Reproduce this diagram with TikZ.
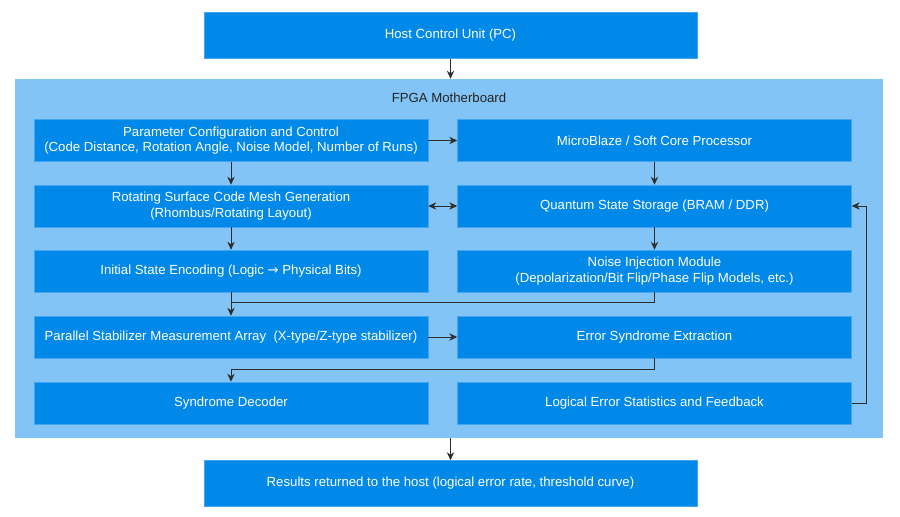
\documentclass[tikz,border=0pt]{standalone}
\usepackage{fontspec}
\setmainfont{Liberation Sans}
\newfontfamily\arrowfont{DejaVu Sans}
\usetikzlibrary{positioning}
\usetikzlibrary{arrows.meta}
\definecolor{boxblue}{RGB}{0,137,232}
\definecolor{edgeblue}{RGB}{70,165,240}
\definecolor{panelblue}{RGB}{129,196,245}
\definecolor{wiregray}{RGB}{45,45,45}

\begin{document}
\begin{tikzpicture}[x=0.75pt, y=0.75pt,
	hostnode/.style={rectangle, fill=boxblue, draw=edgeblue, line width=0.4pt, text=white, align=center, inner sep=0pt, minimum width=369.75pt, minimum height=34.5pt},
	blocknode/.style={rectangle, fill=boxblue, draw=edgeblue, line width=0.4pt, text=white, align=center, inner sep=0pt, minimum width=295.5pt, minimum height=31.5pt},
	panelnode/.style={rectangle, fill=panelblue, draw=none, inner sep=0pt, minimum width=651pt, minimum height=269.25pt},
	wire/.style={draw=wiregray, line width=0.7pt, -{Stealth[length=6pt, width=5.5pt]}},
	font=\fontsize{9.9}{11.6}\selectfont,
	]
	\useasboundingbox (0,0) rectangle (900,517);

	% Nodes
	\node[hostnode]                  (host_unit)        at (450.5, 481.5)   {Host Control Unit (PC)};
	\node[panelnode]                 (fpga_board)       at (449, 258.5)     {};
	\node[text=wiregray!80!black]    (fpga_title)       at (449, 419)       {FPGA Motherboard};
	\node[blocknode]                 (param_ctrl)       at (231, 376.5)     {Parameter Configuration and Control\\(Code Distance, Rotation Angle, Noise Model, Number of Runs)};
	\node[blocknode]                 (micro_blaze)      at (654.5, 376.5)   {MicroBlaze / Soft Core Processor};
	\node[blocknode]                 (mesh_gen)         at (231, 311)       {Rotating Surface Code Mesh Generation\\(Rhombus/Rotating Layout)};
	\node[blocknode]                 (state_store)      at (654.5, 311)     {Quantum State Storage (BRAM / DDR)};
	\node[blocknode]                 (init_enc)         at (231, 246)       {Initial State Encoding (Logic {\arrowfont\char"2192}{} Physical Bits)};
	\node[blocknode]                 (noise_inj)        at (654.5, 246)     {Noise Injection Module\\(Depolarization/Bit Flip/Phase Flip Models, etc.)};
	\node[blocknode]                 (stab_meas)        at (231, 180)       {Parallel Stabilizer Measurement Array\ \ (X-type/Z-type stabilizer)};
	\node[blocknode]                 (synd_extr)        at (654.5, 180)     {Error Syndrome Extraction};
	\node[blocknode]                 (synd_dec)         at (231, 114)       {Syndrome Decoder};
	\node[blocknode]                 (err_stats)        at (654.5, 114)     {Logical Error Statistics and Feedback};
	\node[hostnode]                  (host_result)      at (450.5, 33.5)    {Results returned to the host (logical error rate, threshold curve)};
	\coordinate                      (merge_point)      at (231, 215);

	% Lines
	\draw[wire] (host_unit.south)      --  (host_unit.south |- fpga_board.north);
	\draw[wire] (param_ctrl.east)      --  (micro_blaze.west);
	\draw[wire] (param_ctrl.south)     --  (mesh_gen.north);
	\draw[wire] (micro_blaze.south)    --  (state_store.north);
	\draw[wire, {Stealth[length=6pt, width=5.5pt]}-{Stealth[length=6pt, width=5.5pt]}] (mesh_gen.east) -- (state_store.west);
	\draw[wire] (mesh_gen.south)       --  (init_enc.north);
	\draw[wire] (state_store.south)    --  (noise_inj.north);
	\draw[wire, -] (init_enc.south)    --  (merge_point);
	\draw[wire] (noise_inj.south)      |-  (merge_point) -- (stab_meas.north);
	\draw[wire] (stab_meas.east)       --  (synd_extr.west);
	\draw[wire] (synd_extr.south)      --  ++(0,-11) -| (synd_dec.north);
	\draw[wire] (err_stats.east)       --  ++(15,0) |- (state_store.east);
	\draw[wire] (host_result.north |- fpga_board.south) --  (host_result.north);
\end{tikzpicture}
\end{document}
